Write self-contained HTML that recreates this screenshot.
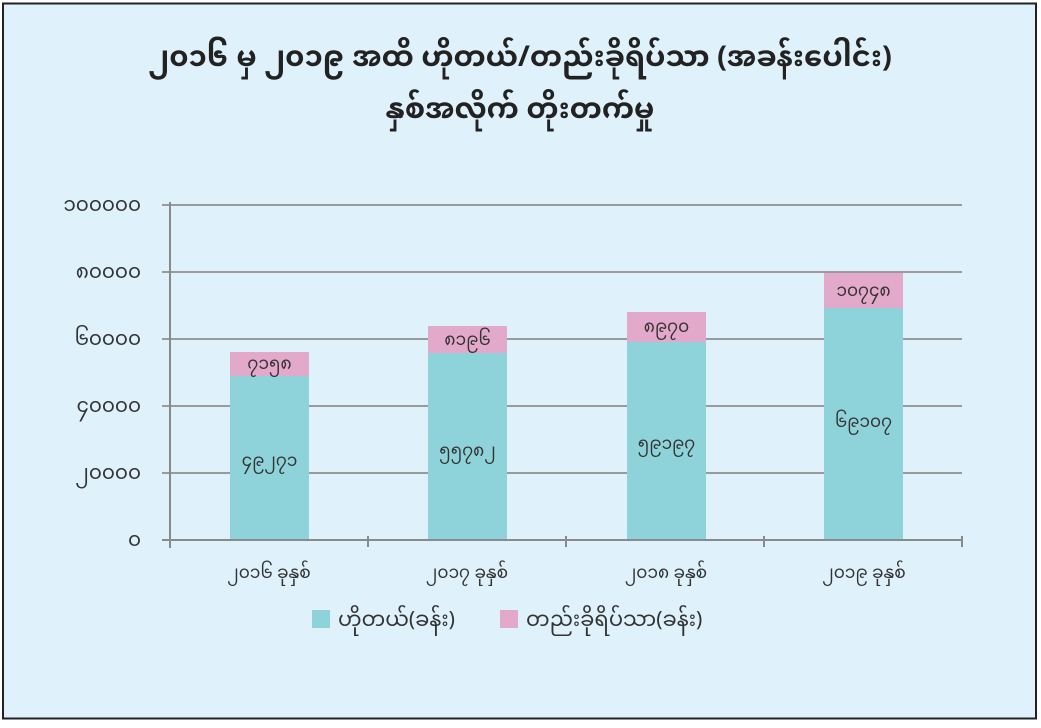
<!DOCTYPE html>
<html><head><meta charset="utf-8"><style>
html,body{margin:0;padding:0;background:#fff;}
body{width:1041px;height:723px;overflow:hidden;}
svg text{font-family:"Noto Sans Myanmar","Padauk","Myanmar Text","Liberation Sans","DejaVu Sans",sans-serif;}
</style></head><body>
<svg width="1041" height="723" viewBox="0 0 1041 723" xmlns="http://www.w3.org/2000/svg">
<rect x="0" y="0" width="1041" height="723" fill="#fff"/>
<rect x="3" y="3.5" width="1033" height="715" fill="#dff1fb" stroke="#222" stroke-width="2"/>
<!-- title -->
<text x="520" y="66" text-anchor="middle" font-size="29" font-weight="bold" fill="#222">၂၀၁၆ မှ ၂၀၁၉ အထိ ဟိုတယ်/တည်းခိုရိပ်သာ (အခန်းပေါင်း)</text>
<text x="520" y="118" text-anchor="middle" font-size="29" font-weight="bold" fill="#222">နှစ်အလိုက် တိုးတက်မှု</text>
<!-- grid -->
<g stroke="#9a9a9a" stroke-width="2">
<line x1="162" y1="205" x2="962" y2="205"/>
<line x1="162" y1="272" x2="962" y2="272"/>
<line x1="162" y1="339" x2="962" y2="339"/>
<line x1="162" y1="406" x2="962" y2="406"/>
<line x1="162" y1="473" x2="962" y2="473"/>
</g>
<!-- bars -->
<g>
<rect x="230" y="376" width="79" height="165" fill="#8fd3da"/>
<rect x="230" y="352" width="79" height="24" fill="#e3a9cb"/>
<rect x="428" y="353" width="79" height="188" fill="#8fd3da"/>
<rect x="428" y="326" width="79" height="27" fill="#e3a9cb"/>
<rect x="627" y="342" width="79" height="199" fill="#8fd3da"/>
<rect x="627" y="312" width="79" height="30" fill="#e3a9cb"/>
<rect x="824" y="308" width="79" height="233" fill="#8fd3da"/>
<rect x="824" y="273" width="79" height="35" fill="#e3a9cb"/>
</g>
<!-- axes -->
<g stroke="#8a8a8a" stroke-width="2">
<line x1="170" y1="202" x2="170" y2="548"/>
<line x1="162" y1="540" x2="962" y2="540"/>
<line x1="368" y1="536" x2="368" y2="547"/>
<line x1="566" y1="536" x2="566" y2="547"/>
<line x1="764" y1="536" x2="764" y2="547"/>
<line x1="962" y1="536" x2="962" y2="547"/>
</g>
<!-- y labels -->
<g font-size="20" fill="#333" text-anchor="end">
<text x="141" y="211">၁၀၀၀၀၀</text>
<text x="141" y="278">၈၀၀၀၀</text>
<text x="141" y="345">၆၀၀၀၀</text>
<text x="141" y="412">၄၀၀၀၀</text>
<text x="141" y="479">၂၀၀၀၀</text>
<text x="141" y="546">၀</text>
</g>
<!-- bar labels -->
<g font-size="17" fill="#333" text-anchor="middle">
<text x="269.5" y="369">၇၁၅၈</text>
<text x="269.5" y="466">၄၉၂၇၁</text>
<text x="467.5" y="345">၈၁၉၆</text>
<text x="467.5" y="456">၅၅၇၈၂</text>
<text x="666.5" y="332">၈၉၇၀</text>
<text x="666.5" y="449">၅၉၁၉၇</text>
<text x="863.5" y="296">၁၀၇၄၈</text>
<text x="863.5" y="427">၆၉၁၀၇</text>
</g>
<!-- x labels -->
<g font-size="17" fill="#333" text-anchor="middle">
<text x="269" y="578">၂၀၁၆ ခုနှစ်</text>
<text x="467" y="578">၂၀၁၇ ခုနှစ်</text>
<text x="666" y="578">၂၀၁၈ ခုနှစ်</text>
<text x="864" y="578">၂၀၁၉ ခုနှစ်</text>
</g>
<!-- legend -->
<rect x="312" y="610" width="18" height="18" fill="#8fd3da"/>
<text x="338" y="626" font-size="21" fill="#333">ဟိုတယ်(ခန်း)</text>
<rect x="500" y="610" width="18" height="18" fill="#e3a9cb"/>
<text x="526" y="626" font-size="21" fill="#333">တည်းခိုရိပ်သာ(ခန်း)</text>
</svg>
</body></html>
